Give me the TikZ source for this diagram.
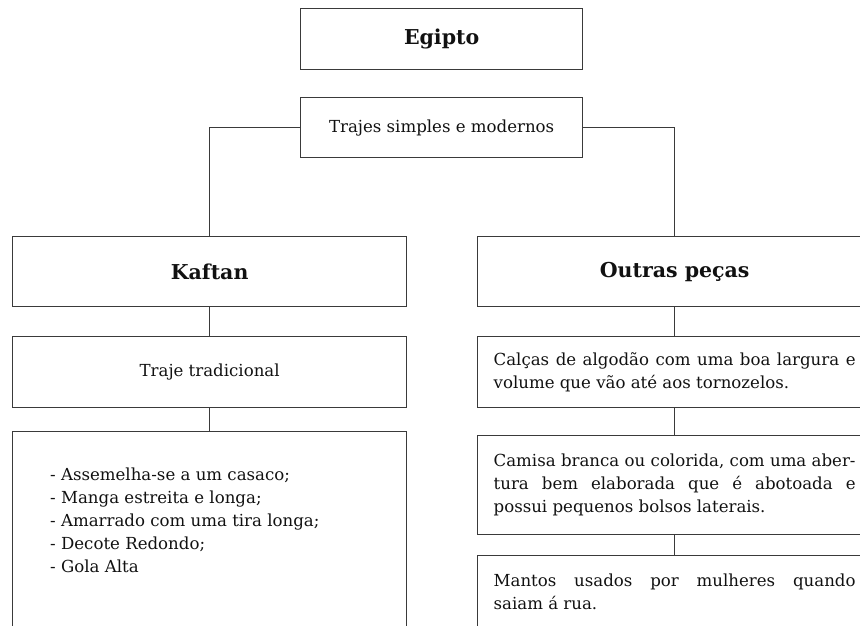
\documentclass[tikz,border=0pt]{standalone}
\usepackage{fontspec}
\setmainfont{DejaVu Serif}
\definecolor{linegray}{HTML}{3A3A3A}
\definecolor{textblack}{HTML}{111111}
\tikzset{
  boxnode/.style={draw=linegray, line width=1.3pt, rectangle, inner sep=0pt, anchor=north west, text=textblack},
  titletext/.style={font=\fontsize{20.5}{24}\selectfont\bfseries},
  bodytext/.style={font=\fontsize{16.6}{23}\selectfont},
  justbox/.style={boxnode, bodytext, text width=362pt, inner xsep=16pt, align=justify},
  conn/.style={draw=linegray, line width=1.3pt}
}
\begin{document}
\begin{tikzpicture}[x=1pt,y=-1pt]
\useasboundingbox (0,0) rectangle (860,626);
\clip (0,0) rectangle (860,626);
% top
\node[boxnode, titletext, minimum width=282pt, minimum height=61pt] (egipto) at (300,8) {Egipto};
\node[boxnode, bodytext, minimum width=282pt, minimum height=60pt] (trajes) at (300,97) {Trajes simples e modernos};
% second level
\node[boxnode, titletext, minimum width=394pt, minimum height=70pt] (kaftan) at (12,236) {Kaftan};
\node[boxnode, titletext, minimum width=394pt, minimum height=70pt] (outras) at (477,236) {Outras peças};
% left column
\node[boxnode, bodytext, minimum width=394pt, minimum height=71pt] (tradicional) at (12,336) {Traje tradicional};
\node[boxnode, minimum width=394pt, minimum height=230pt] (lista) at (12,431) {};
\node[bodytext, anchor=west, align=left, inner sep=0pt, text=textblack] (listatext) at (50,520) {- Assemelha-se a um casaco;\\- Manga estreita e longa;\\- Amarrado com uma tira longa;\\- Decote Redondo;\\- Gola Alta};
% right column
\node[justbox, minimum height=71pt] (calcas) at (477,336) {Calças de algodão com uma boa largura e\linebreak volume que vão até aos tornozelos.};
\node[justbox, minimum height=99pt] (camisa) at (477,435) {Camisa branca ou colorida, com uma aber-\linebreak tura bem elaborada que é abotoada e\linebreak possui pequenos bolsos laterais.};
\node[justbox, minimum height=72pt] (mantos) at (477,555) {Mantos usados por mulheres quando\linebreak saiam á rua.};
% connectors
\draw[conn] (trajes.west) -| (kaftan.north);
\draw[conn] (trajes.east) -| (outras.north);
\draw[conn] (kaftan.south) -- (tradicional.north);
\draw[conn] (tradicional.south) -- (lista.north);
\draw[conn] (outras.south) -- (calcas.north);
\draw[conn] (calcas.south) -- (camisa.north);
\draw[conn] (camisa.south) -- (mantos.north);
\end{tikzpicture}
\end{document}
